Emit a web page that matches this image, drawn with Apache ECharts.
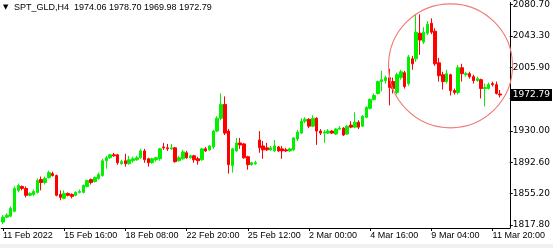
<!DOCTYPE html>
<html><head><meta charset="utf-8">
<script src="https://cdn.jsdelivr.net/npm/echarts@6/dist/echarts.min.js"></script>
<style>html,body{margin:0;padding:0;background:#fff}#c{width:553px;height:248px}</style>
</head><body><div id="c"></div>
<script>
const symbolName = 'SPT_GLD,H4';
const xTickLabels = ['11 Feb 2022','15 Feb 16:00','18 Feb 08:00','22 Feb 20:00','25 Feb 12:00','2 Mar 00:00','4 Mar 16:00','9 Mar 04:00','11 Mar 20:00'];
const yTickLabels = [1817.80,1855.20,1892.60,1930.00,1968.40,2005.90,2043.30,2080.70];
const opens = [
1821.3,1827.2,1828.4,1834.3,1859.1,1863.8,1861.4,1853.2,1854.3,1856.7,
1872.0,1868.5,1874.4,1879.1,1876.8,1854.3,1849.6,1855.5,1854.3,1853.2,
1856.7,1856.7,1863.8,1872.0,1869.7,1873.2,1876.8,1894.4,1898.0,1901.5,
1901.5,1890.9,1894.4,1890.9,1894.4,1895.6,1898.0,1906.2,1896.8,1892.1,
1895.6,1896.8,1910.9,1909.8,1908.6,1909.8,1894.4,1896.8,1903.9,1898.0,
1900.3,1896.8,1895.6,1908.6,1907.4,1910.9,1929.8,1945.1,1961.6,1929.8,
1888.5,1906.2,1915.7,1914.5,1899.2,1889.7,1890.9,1919.2,1912.1,1909.8,
1907.4,1906.2,1910.9,1908.6,1907.4,1906.2,1907.4,1920.4,1927.4,1941.6,
1943.9,1935.7,1945.1,1929.8,1927.4,1927.4,1929.8,1926.3,1932.2,1933.3,
1926.3,1936.9,1934.5,1940.4,1935.7,1946.3,1956.9,1967.5,1974.6,1988.8,
1989.9,1993.5,1988.8,1975.8,1993.5,1999.4,1986.4,2015.9,2015.9,2046.5,
2035.9,2046.5,2058.3,2048.9,2011.2,1997.0,1988.8,1997.0,1978.1,1975.8,
2005.3,1997.0,1998.2,1994.7,1989.9,1991.1,1980.5,1980.5,1986.4,1985.2,
1974.06];
const closes = [
1827.2,1829.6,1837.8,1861.4,1865.0,1861.4,1853.2,1855.5,1857.9,1870.9,
1868.5,1873.2,1880.3,1876.8,1853.2,1850.8,1855.5,1853.2,1852.0,1856.7,
1857.9,1865.0,1870.9,1868.5,1874.4,1877.9,1894.4,1898.0,1901.5,1900.3,
1892.1,1893.3,1890.9,1895.6,1896.8,1898.0,1906.2,1895.6,1892.1,1896.8,
1898.0,1908.6,1909.8,1908.6,1909.8,1893.3,1898.0,1905.0,1898.0,1900.3,
1895.6,1894.4,1908.6,1906.2,1912.1,1929.8,1945.1,1961.6,1927.4,1889.7,
1908.6,1915.7,1913.3,1898.0,1889.7,1892.1,1892.1,1909.8,1907.4,1907.4,
1909.8,1912.1,1906.2,1906.2,1906.2,1908.6,1921.6,1928.6,1941.6,1943.9,
1935.7,1945.1,1929.8,1927.4,1928.6,1929.8,1927.4,1932.2,1933.3,1925.1,
1935.7,1934.5,1940.4,1934.5,1947.5,1958.1,1967.5,1972.2,1988.8,1991.1,
1993.5,1981.7,1980.5,1997.0,2000.5,1982.9,2018.2,2010.0,2047.7,2038.3,
2047.7,2057.1,2047.7,2010.0,1995.8,1988.8,1998.2,1978.1,1975.8,2005.3,
1998.2,1998.2,1994.7,1989.9,1992.3,1980.5,1981.7,1985.2,1985.2,1974.6,
1972.79];
const lows = [
1819.0,1826.1,1827.2,1833.1,1856.7,1859.1,1850.8,1852.0,1852.0,1855.5,
1859.1,1866.1,1873.2,1875.6,1852.0,1847.3,1848.5,1852.0,1849.6,1852.0,
1855.5,1855.5,1862.6,1866.1,1868.5,1872.0,1875.6,1885.0,1896.8,1899.2,
1889.7,1889.7,1887.4,1889.7,1892.1,1894.4,1896.8,1892.1,1887.4,1890.9,
1893.3,1894.4,1907.4,1906.2,1907.4,1892.1,1893.3,1895.6,1896.8,1896.8,
1892.1,1889.7,1894.4,1905.0,1906.2,1908.6,1928.6,1942.8,1925.1,1879.1,
1880.3,1905.0,1908.6,1896.8,1883.8,1888.5,1889.7,1903.9,1896.8,1906.2,
1906.2,1905.0,1905.0,1896.8,1905.0,1905.0,1906.2,1918.0,1926.3,1939.2,
1933.3,1934.5,1913.3,1925.1,1915.7,1926.3,1926.3,1925.1,1931.0,1923.9,
1925.1,1933.3,1933.3,1932.2,1934.5,1945.1,1955.7,1966.4,1973.4,1977.0,
1986.4,1960.5,1974.6,1973.4,1991.1,1980.5,1984.0,2002.9,2012.3,2020.6,
2033.6,2044.2,2045.3,2007.6,1988.8,1979.3,1986.4,1972.2,1973.4,1973.4,
1988.8,1994.7,1992.3,1986.4,1988.8,1968.7,1959.3,1979.3,1982.9,1973.4,
1969.98];
const highs = [
1829.6,1831.9,1840.2,1863.8,1867.3,1865.0,1863.8,1856.7,1860.2,1873.2,
1875.6,1875.6,1882.6,1881.5,1877.9,1859.1,1859.1,1856.7,1855.5,1857.9,
1860.2,1866.1,1872.0,1873.2,1875.6,1880.3,1896.8,1900.3,1902.7,1903.9,
1902.7,1895.6,1902.7,1900.3,1899.2,1900.3,1908.6,1908.6,1898.0,1898.0,
1899.2,1909.8,1915.7,1914.5,1914.5,1910.9,1900.3,1907.4,1906.2,1901.5,
1901.5,1899.2,1909.8,1910.9,1913.3,1931.0,1947.5,1974.6,1971.1,1932.2,
1909.8,1921.6,1921.6,1915.7,1900.3,1893.3,1894.4,1929.8,1918.0,1915.7,
1912.1,1919.2,1912.1,1912.1,1909.8,1909.8,1922.7,1931.0,1945.1,1946.3,
1945.1,1948.7,1946.3,1932.2,1931.0,1932.2,1931.0,1933.3,1935.7,1934.5,
1936.9,1941.6,1952.2,1942.8,1948.7,1959.3,1968.7,1974.6,1989.9,2001.7,
1995.8,2004.1,1993.5,1999.4,2002.9,2001.7,2020.6,2019.4,2068.9,2068.9,
2053.6,2060.7,2064.2,2052.4,2017.1,2000.5,2002.9,1998.2,1980.5,2008.8,
2010.0,2000.5,2000.5,1997.0,1994.7,1992.3,1986.4,1987.6,1988.8,1988.8,
1978.70];

const labelEvery = 16;
const slotCount = 133;
const categories = Array.from({length: slotCount}, (_, i) => String(i));
const candleData = opens.map((o, i) => [o, closes[i], lows[i], highs[i]]);
const last = opens.length - 1;
const header = symbolName + '  ' + [opens[last], highs[last], lows[last], closes[last]].map(v => v.toFixed(2)).join(' ');

const chart = echarts.init(document.getElementById('c'), null, {renderer: 'canvas'});
const UP = '#00f000', DOWN = '#ff0000';
const baseGraphic = [
  {type: 'text', left: 3, top: 4, style: {text: '\u25BC', font: '7px "DejaVu Sans"', fill: '#000'}},
  {type: 'text', left: 14, top: 3, style: {text: header, font: '9px "Liberation Sans"', fill: '#000'}},
  {type: 'rect', shape: {x: 0, y: 244, width: 553, height: 4}, style: {fill: '#f0f0f0'}}
];
chart.setOption({
  animation: false,
  backgroundColor: '#ffffff',
  grid: {left: 0, right: 43, top: 0, bottom: 20},
  xAxis: {
    type: 'category', data: categories, boundaryGap: true,
    axisLine: {show: true, lineStyle: {color: '#000', width: 1}},
    axisTick: {show: true, alignWithLabel: true, interval: i => i % labelEvery === 0, length: 3, lineStyle: {color: '#000'}},
    axisLabel: {interval: i => i % labelEvery === 0, formatter: (v, i) => (xTickLabels[i / labelEvery] || ''),
      align: 'left', color: '#000', fontSize: 9, fontFamily: 'Liberation Sans', margin: 3},
    splitLine: {show: false}
  },
  yAxis: {
    type: 'value', position: 'right', min: 1814.26, max: 2083.08,
    axisLine: {show: true, lineStyle: {color: '#000', width: 1}},
    axisTick: {show: true, length: 3, customValues: yTickLabels, lineStyle: {color: '#000'}},
    axisLabel: {customValues: yTickLabels, formatter: v => v.toFixed(2), color: '#000', fontSize: 9, fontFamily: 'DejaVu Sans', margin: 3},
    splitLine: {show: false}
  },
  series: [{
    type: 'candlestick', data: candleData, barWidth: 3,
    itemStyle: {color: UP, color0: DOWN, borderColor: UP, borderColor0: DOWN, borderWidth: 1},
    markLine: {
      silent: true, symbol: ['none', 'none'], animation: false,
      lineStyle: {color: 'transparent', width: 0},
      data: [{yAxis: closes[last]}],
      label: {position: 'end', formatter: closes[last].toFixed(2), backgroundColor: '#000', color: '#fff',
        fontSize: 9, fontFamily: 'DejaVu Sans', padding: [2, 2, 1, 2], distance: 1}
    }
  }],
  graphic: baseGraphic
});
// annotation circle around the recent spike, anchored in data coordinates
const ctr = chart.convertToPixel({seriesIndex: 0}, [116.6, 2006.4]);
chart.setOption({graphic: baseGraphic.concat([
  {type: 'circle', shape: {cx: ctr[0], cy: ctr[1] - 1, r: 62}, style: {fill: 'none', stroke: '#f07878', lineWidth: 1.1}, z: 10}
])});
</script></body></html>
